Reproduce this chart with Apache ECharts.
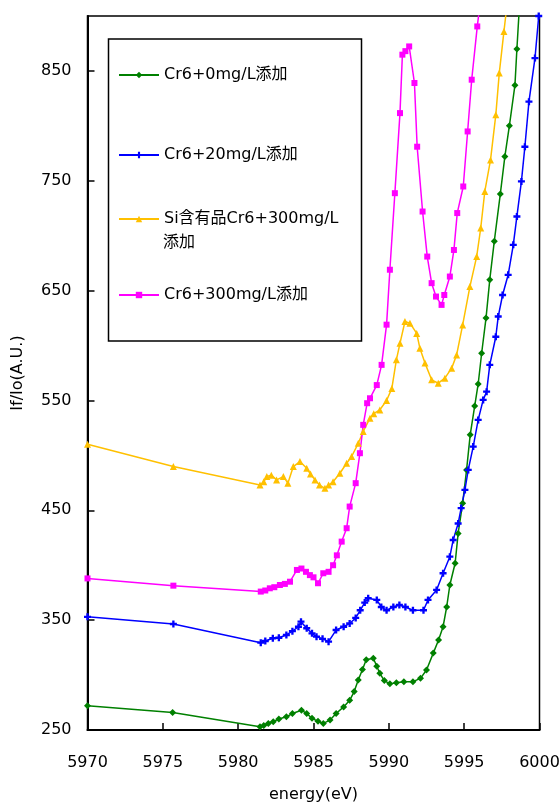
<!DOCTYPE html>
<html>
<head>
<meta charset="utf-8">
<script src="https://cdn.jsdelivr.net/npm/echarts@6/dist/echarts.min.js"></script>
<style>html,body{margin:0;padding:0;background:#fff;overflow:hidden;}#c{width:559px;height:802px;}</style>
</head>
<body>
<div id="c"></div>
<script>
const seriesNames = ['Cr6+0mg/L添加', 'Cr6+20mg/L添加', 'Si含有品Cr6+300mg/L添加', 'Cr6+300mg/L添加'];
const xTicks = [5970, 5975, 5980, 5985, 5990, 5995, 6000];
const yTicks = [250, 350, 450, 550, 650, 750, 850];

const green0 = [[5970,272],[5975.65,266],[5981.45,253],[5981.7,254],[5982.0,256],[5982.33,257.6],[5982.7,260],[5983.2,262],[5983.6,265],[5984.2,268],[5984.55,265],[5984.9,260.6],[5985.3,258],[5985.65,256],[5986.1,259],[5986.5,265],[5987.0,271],[5987.4,277],[5987.7,285],[5987.97,295.5],[5988.25,305],[5988.5,314],[5988.97,315.3],[5989.2,308],[5989.4,301.6],[5989.7,295],[5990.07,292],[5990.5,293],[5991.0,294],[5991.6,294],[5992.1,297],[5992.5,304.6],[5992.95,320],[5993.3,332],[5993.6,344],[5993.84,362],[5994.05,382],[5994.4,401.8],[5994.6,429],[5994.9,456.5],[5995.16,486.8],[5995.4,518.7],[5995.7,545],[5995.93,565],[5996.16,593],[5996.45,625],[5996.7,660],[5997.0,695],[5997.4,738],[5997.7,772],[5998.0,800],[5998.37,837],[5998.5,870],[5998.65,905]];

const blue20 = [[5970,353],[5975.7,346.5],[5981.5,329.5],[5981.8,331],[5982.3,333.5],[5982.7,334],[5983.2,336.5],[5983.6,340],[5984.0,344],[5984.17,348.6],[5984.55,342.6],[5984.9,338],[5985.2,335],[5985.6,333],[5986.0,330.4],[5986.5,341],[5987.0,344],[5987.4,347],[5987.8,352],[5988.1,359],[5988.4,366],[5988.63,370],[5989.2,368.4],[5989.5,362],[5989.85,359],[5990.3,362],[5990.7,363.8],[5991.1,362],[5991.6,359],[5992.3,359],[5992.6,368.4],[5993.17,377.5],[5993.6,392.7],[5994.05,407.8],[5994.27,423],[5994.6,438],[5994.8,452],[5995.05,468.6],[5995.27,486.8],[5995.6,508],[5995.93,532.3],[5996.26,550.5],[5996.49,558],[5996.7,582.4],[5997.1,608],[5997.26,626.4],[5997.55,646],[5997.92,664.4],[5998.26,691.7],[5998.5,717.5],[5998.8,749.4],[5999.03,781],[5999.3,822],[5999.7,861.7],[5999.95,900]];

const yellowSi300 = [[5970,510.2],[5975.7,489.8],[5981.45,473],[5981.7,476],[5981.9,480.7],[5982.2,482],[5982.55,477.7],[5983.0,480.7],[5983.3,474.7],[5983.66,489.8],[5984.1,494.4],[5984.55,488.3],[5984.8,483],[5985.1,477.7],[5985.4,473],[5985.76,470],[5986.0,473],[5986.3,476],[5986.75,483.7],[5987.2,492.8],[5987.53,499],[5987.97,511],[5988.3,521.8],[5988.75,533.9],[5989.0,538],[5989.4,541.4],[5989.85,550],[5990.2,561],[5990.5,587],[5990.74,602],[5991.07,621.9],[5991.4,620.4],[5991.85,611],[5992.06,597.6],[5992.4,584],[5992.84,568.8],[5993.28,565.7],[5993.72,570.3],[5994.17,579.4],[5994.5,591.5],[5994.9,618.8],[5995.38,653.7],[5995.83,681],[5996.1,707],[5996.37,740.3],[5996.75,769],[5997.1,810],[5997.33,848],[5997.64,886],[5997.8,905]];

const pink300 = [[5970,388],[5975.7,381.4],[5981.5,376],[5981.8,377],[5982.1,379],[5982.4,380],[5982.77,382],[5983.1,383],[5983.44,385],[5983.9,395.7],[5984.2,397],[5984.5,394],[5984.76,391],[5985.0,389],[5985.3,383.6],[5985.65,392.7],[5986.0,394],[5986.3,400],[5986.55,409],[5986.87,421.5],[5987.2,433.7],[5987.4,453.4],[5987.8,474.7],[5988.08,502],[5988.3,527.8],[5988.56,547.5],[5988.75,552],[5989.2,564],[5989.52,582.4],[5989.85,619],[5990.07,669],[5990.4,738.7],[5990.74,811.6],[5990.9,864.8],[5991.1,868],[5991.35,872.3],[5991.7,839],[5991.88,781],[5992.24,722],[5992.55,681],[5992.84,656.8],[5993.13,644.6],[5993.5,637],[5993.68,646],[5994.05,662.8],[5994.32,687],[5994.54,720.6],[5994.94,744.8],[5995.23,794.9],[5995.5,842],[5995.87,890.5],[5996.0,905]];

const FONT = '"DejaVu Sans", "Noto Sans CJK JP", sans-serif';
const colors = ['#008000', '#0000ff', '#ffc000', '#ff00ff'];
const symbols = ['diamond', 'path://M2,0H4V2H6V4H4V6H2V4H0V2H2Z', 'triangle', 'rect'];
const symbolSizes = [7, 7, 7, 6];
const datasets = [green0, blue20, yellowSi300, pink300];
const legendCenters = [71, 151, 215, 291];

const chart = echarts.init(document.getElementById('c'), null, {renderer: 'canvas', width: 559, height: 802});

const legends = seriesNames.map((n, i) => ({
  data: [n],
  left: 118,
  top: legendCenters[i] - 4,
  padding: 0,
  itemWidth: 40,
  itemHeight: 8,
  orient: 'vertical',
  selectedMode: false,
  formatter: (name) => name === 'Si含有品Cr6+300mg/L添加' ? 'Si含有品Cr6+300mg/L' : name,
  textStyle: {fontFamily: FONT, fontSize: 16, color: '#000'}
}));

chart.setOption({
  animation: false,
  backgroundColor: '#fff',
  textStyle: {fontFamily: FONT},
  grid: {left: 87.5, right: 19.5, top: 16, bottom: 72, containLabel: false, outerBoundsMode: 'none', show: true, borderColor: '#000', borderWidth: 1.5, backgroundColor: 'transparent'},
  legend: legends,
  graphic: [
    {type: 'rect', shape: {x: 108.5, y: 39, width: 253, height: 302}, style: {fill: 'none', stroke: '#000', lineWidth: 1.5}, z: 100},
    {type: 'text', left: 163, top: 235, style: {text: '添加', font: '16px ' + FONT, fill: '#000'}, z: 100}
  ],
  xAxis: {
    type: 'value', min: xTicks[0], max: xTicks[xTicks.length - 1], interval: 5,
    name: 'energy(eV)', nameLocation: 'middle', nameGap: 57,
    nameTextStyle: {fontFamily: FONT, fontSize: 16, color: '#000'},
    axisLine: {lineStyle: {color: '#000', width: 2}},
    axisTick: {inside: true, length: 7, lineStyle: {color: '#000', width: 1.5}},
    axisLabel: {margin: 25, fontFamily: FONT, fontSize: 16, color: '#000', formatter: (v) => String(v)},
    splitLine: {show: false}
  },
  yAxis: {
    type: 'value', min: yTicks[0], max: 900, interval: 100,
    name: 'If/Io(A.U.)', nameLocation: 'middle', nameGap: 62, nameRotate: 90,
    nameTextStyle: {fontFamily: FONT, fontSize: 16, color: '#000'},
    axisLine: {lineStyle: {color: '#000', width: 2}},
    axisTick: {inside: true, length: 7, lineStyle: {color: '#000', width: 1.5}},
    axisLabel: {margin: 16, fontFamily: FONT, fontSize: 16, color: '#000', showMaxLabel: false, formatter: (v) => String(v)},
    splitLine: {show: false}
  },
  series: seriesNames.map((n, i) => ({
    name: n,
    type: 'line',
    data: datasets[i],
    color: colors[i],
    symbol: symbols[i],
    symbolSize: symbolSizes[i],
    showAllSymbol: true,
    clip: true,
    lineStyle: {width: 1.5, color: colors[i]},
    itemStyle: {color: colors[i]}
  }))
});
</script>
</body>
</html>
